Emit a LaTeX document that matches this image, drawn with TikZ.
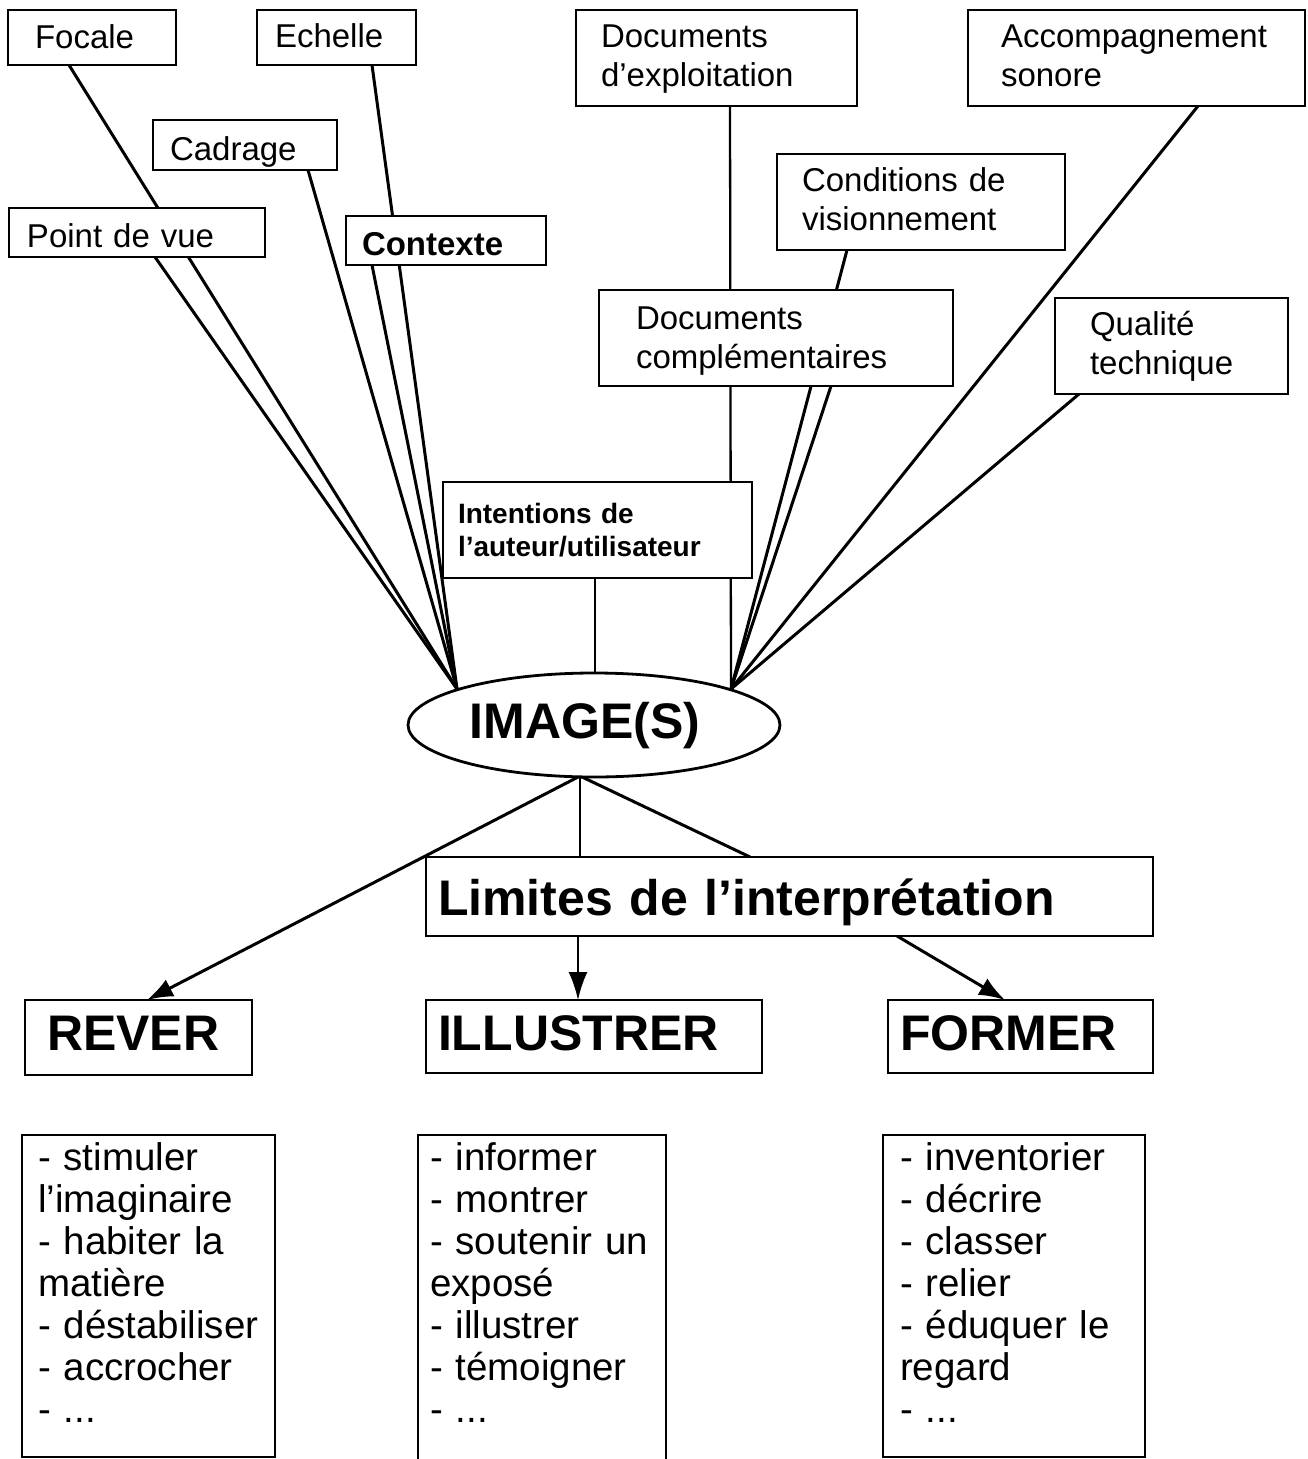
\documentclass[tikz,border=0pt]{standalone}
\usepackage{fontspec}
\setmainfont{Liberation Sans}
\usetikzlibrary{calc,arrows.meta,shapes.geometric}
\pgfdeclarelayer{bottom}
\pgfdeclarelayer{back}
\pgfsetlayers{bottom,back,main}
\tikzset{
  box/.style={draw, fill=white, line width=2.8pt, rectangle, anchor=north west,
    inner ysep=0pt, outer sep=0pt, align=left},
  lbl/.style={font=\fontsize{33}{39}\selectfont},
  lblb/.style={font=\fontsize{33}{39}\selectfont\bfseries},
  small/.style={font=\fontsize{28}{33}\selectfont\bfseries},
  big/.style={font=\fontsize{50}{56}\selectfont\bfseries},
  lst/.style={font=\fontsize{38.5}{42}\selectfont},
  conn/.style={line width=3pt},
  vconn/.style={line width=2.3pt},
  arr/.style={line width=3pt, -{Latex[length=26pt,width=19pt]}},
  varr/.style={line width=2.3pt, -{Latex[length=28pt,width=19pt]}},
}
\begin{document}
\begin{tikzpicture}[x=1pt,y=-1pt]
\useasboundingbox (0,0) rectangle (1308,1459);
\begin{pgfonlayer}{bottom}
  \fill[white] (0,0) rectangle (1308,1459);
\end{pgfonlayer}

% top boxes
\node[box,lbl,inner xsep=27pt,text width=114pt,text height=38pt,text depth=17pt] (focale) at (8,10) {Focale};
\node[box,lbl,inner xsep=18pt,text width=123pt,text height=37pt,text depth=18pt] (echelle) at (257,10) {Echelle};
\node[box,lbl,inner xsep=17pt,text width=150pt,text height=40pt,text depth=10pt] (cadrage) at (153,120) {Cadrage};
\node[box,lbl,inner xsep=18pt,text width=220pt,text height=39pt,text depth=10pt] (pdv) at (9,208) {Point de vue};
\node[box,lblb,inner xsep=16pt,text width=168pt,text height=39pt,text depth=10pt] (contexte) at (346,216) {Contexte};
\node[box,lbl,inner xsep=25pt,text width=231pt,text height=37pt,text depth=59pt] (docexp) at (576,10) {Documents\\d’exploitation};
\node[box,lbl,inner xsep=33pt,text width=271pt,text height=37pt,text depth=59pt] (accomp) at (968,10) {Accompagnement\\sonore};
\node[box,lbl,inner xsep=25pt,text width=238pt,text height=37pt,text depth=59pt] (cond) at (777,154) {Conditions de\\visionnement};
\node[box,lbl,inner xsep=37pt,text width=280pt,text height=39pt,text depth=57pt] (doccomp) at (599,290) {Documents\\complémentaires};
\node[box,lbl,inner xsep=35pt,text width=163pt,text height=37pt,text depth=59pt] (qualite) at (1055,298) {Qualité\\technique};
\node[box,small,inner xsep=15pt,text width=279pt,text height=41pt,text depth=55pt] (intent) at (443,482) {Intentions de\\l’auteur/utilisateur};

% central ellipse
\node[draw, fill=white, ellipse, line width=2.8pt, inner sep=0pt, outer sep=0pt,
  minimum width=372pt, minimum height=104pt, big, text height=36pt, text depth=10pt] (img) at (594,725) {IMAGE(S)\hspace*{18pt}};

% middle / lower boxes
\node[box,big,inner xsep=12pt,text width=703pt,text height=58pt,text depth=21pt] (limites) at (426,857) {Limites de l’interprétation};
\node[box,big,inner xsep=22pt,text width=183pt,text height=50pt,text depth=25pt] (rever) at (25,1000) {REVER};
\node[box,big,inner xsep=12pt,text width=312pt,text height=50pt,text depth=23pt] (illustrer) at (426,1000) {ILLUSTRER};
\node[box,big,inner xsep=12pt,text width=241pt,text height=50pt,text depth=23pt] (former) at (888,1000) {FORMER};

% lists
\node[box,lst,inner xsep=16pt,text width=221pt,text height=35pt,text depth=287pt] (list1) at (22,1135)
  {- stimuler\\l’imaginaire\\- habiter la\\matière\\- déstabiliser\\- accrocher\\- ...};
\node[box,lst,inner xsep=12pt,text width=224pt,text height=35pt,text depth=291pt] (list2) at (418,1135)
  {- informer\\- montrer\\- soutenir un\\exposé\\- illustrer\\- témoigner\\- ...};
\node[box,lst,inner xsep=17pt,text width=228pt,text height=35pt,text depth=287pt] (list3) at (883,1135)
  {- inventorier\\- décrire\\- classer\\- relier\\- éduquer le\\regard\\- ...};

% convergence points on the ellipse
\coordinate (L) at (457,689);
\coordinate (R) at (731,689);
\coordinate (B) at (580,776);

\begin{pgfonlayer}{back}
  % left fan
  \draw[conn] ($(focale.south west)+(61,0)$) -- (L);
  \draw[conn] ($(echelle.south west)+(115,0)$) -- (L);
  \draw[conn] ($(cadrage.south west)+(155,0)$) -- (L);
  \draw[conn] ($(pdv.south west)+(146,0)$) -- (L);
  \draw[conn] ($(contexte.south west)+(26,0)$) -- (L);
  % right fan
  \draw[vconn] ($(docexp.south west)+(154,0)$) -- (R);
  \draw[conn] ($(cond.south west)+(70,0)$) -- (R);
  \draw[conn] ($(doccomp.south west)+(232,0)$) -- (R);
  \draw[conn] ($(accomp.south west)+(230,0)$) -- (R);
  \draw[conn] ($(qualite.south west)+(24,0)$) -- (R);
  % intentions
  \coordinate (it) at ($(intent.south west)+(152,0)$);
  \draw[vconn] (it) -- (it |- img.north);
  % lower part
  \draw[arr] (B) -- ($(rever.north west)+(122,0)$);
  \draw[vconn] (B) -- ($(limites.north west)+(154,0)$);
  \draw[conn] (B) -- ($(limites.north west)+(324,0)$);
  \draw[varr] ($(limites.south west)+(152,0)$) -- ($(illustrer.north west)+(152,0)$);
  \draw[arr] ($(limites.south west)+(471,0)$) -- ($(former.north west)+(117,0)$);
\end{pgfonlayer}
\end{tikzpicture}
\end{document}
